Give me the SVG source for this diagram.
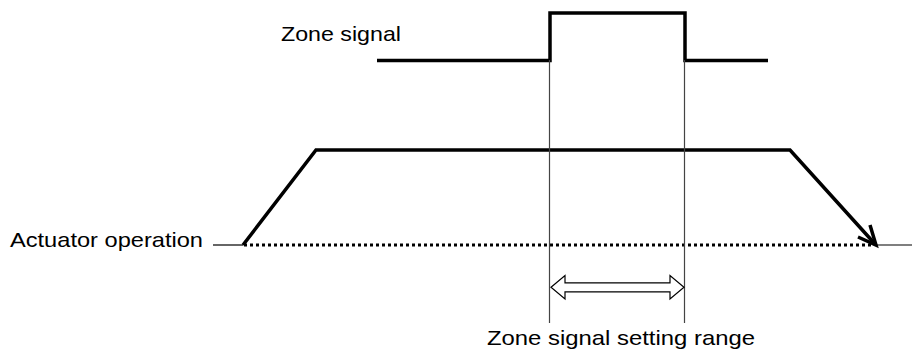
<svg xmlns="http://www.w3.org/2000/svg" width="916" height="352" viewBox="0 0 916 352">
<defs>
<style>
.lbl{font-family:"Liberation Sans",Arial,sans-serif;font-size:21px;fill:#000}
.thick{fill:none;stroke:#000;stroke-width:3.5;stroke-linejoin:miter;stroke-linecap:butt}
.thin{fill:none;stroke:#000;stroke-width:1.2}
.guide{fill:none;stroke:#444;stroke-width:1.2}
.dot{fill:none;stroke:#000;stroke-width:3;stroke-dasharray:3 3}
</style>
</defs>
<rect width="916" height="352" fill="#fff"/>
<g id="zone-signal">
<text class="lbl" x="281" y="41" textLength="120" lengthAdjust="spacingAndGlyphs">Zone signal</text>
<polyline class="thick" points="377,60.5 550,60.5 550,13 685,13 685,60.5 768,60.5"/>
</g>
<g id="actuator">
<text class="lbl" x="10" y="246.5" textLength="193" lengthAdjust="spacingAndGlyphs">Actuator operation</text>
<line class="thin" x1="213" y1="245" x2="243" y2="245"/>
<line class="dot" x1="244" y1="245" x2="874" y2="245"/>
<line class="thin" x1="876" y1="245" x2="912" y2="245"/>
<polyline class="thick" points="243,245 316,150 790,150 875,244"/>
<polyline class="thick" points="858,237 876,245 870,225"/>
</g>
<g id="range">
<text class="lbl" x="487" y="345" textLength="268" lengthAdjust="spacingAndGlyphs">Zone signal setting range</text>
</g>
<g id="connectors">
<line class="guide" x1="549.5" y1="60" x2="549.5" y2="323"/>
<line class="guide" x1="684.5" y1="60" x2="684.5" y2="323"/>
<polygon fill="#fff" stroke="#000" stroke-width="1.2" points="551,287.3 565,275.5 565,282.8 670,282.8 670,275.5 684,287.3 670,299 670,291.8 565,291.8 565,299"/>
</g>
</svg>
